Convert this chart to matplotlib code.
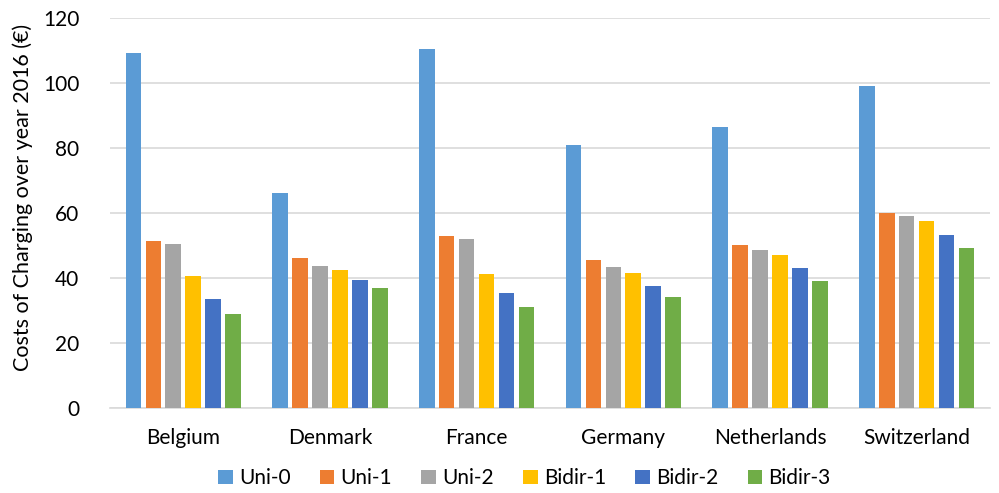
import matplotlib
matplotlib.use("Agg")
import matplotlib.pyplot as plt
import numpy as np

plt.rcParams['font.family'] = ['Lato', 'DejaVu Sans']

countries = ['Belgium', 'Denmark', 'France', 'Germany', 'Netherlands', 'Switzerland']
series_names = ['Uni-0', 'Uni-1', 'Uni-2', 'Bidir-1', 'Bidir-2', 'Bidir-3']

uni0 = [109.2, 66.1, 110.6, 81.0, 86.4, 99.2]
uni1 = [51.6, 46.2, 53.0, 45.5, 50.2, 60.0]
uni2 = [50.5, 43.8, 52.1, 43.3, 48.8, 59.1]
bidir1 = [40.8, 42.4, 41.4, 41.6, 47.0, 57.5]
bidir2 = [33.6, 39.4, 35.6, 37.6, 43.1, 53.3]
bidir3 = [28.9, 36.9, 31.0, 34.2, 39.2, 49.3]

colors = ['#5B9BD5', '#ED7D31', '#A5A5A5', '#FFC000', '#4472C4', '#70AD47']

fig = plt.figure(figsize=(9.99, 4.93), dpi=100)
ax = fig.add_axes([0.110, 0.172, 0.881, 0.791])

x = np.arange(len(countries))
step = 0.136
width = 0.106
all_series = [uni0, uni1, uni2, bidir1, bidir2, bidir3]
for i, (vals, name, c) in enumerate(zip(all_series, series_names, colors)):
    ax.bar(x + (i - 2.5) * step, vals, width, color=c, label=name, zorder=3)

ax.set_xlim(-0.5, len(countries) - 0.5)
ax.set_ylim(0, 120)
ax.set_yticks(range(0, 121, 20))
ax.yaxis.grid(True, color='#d9d9d9', linewidth=1.2, zorder=0)
ax.set_xticks(x)
ax.set_xticklabels(countries, fontsize=15)
ax.tick_params(axis='y', labelsize=15, length=0, pad=22)
ax.tick_params(axis='x', length=0, pad=14)
for s in ['top', 'right', 'left']:
    ax.spines[s].set_visible(False)
ax.spines['bottom'].set_color('#d9d9d9')
ax.spines['bottom'].set_linewidth(1.2)

fig.text(0.023, 0.600, 'Costs of Charging over year 2016 (€)', rotation=90,
         ha='center', va='center', fontsize=15.5)

fig.legend(loc='center', bbox_to_anchor=(0.525, 0.03), ncol=6, frameon=False,
           fontsize=15, handlelength=0.7, handleheight=0.7, handletextpad=0.3,
           columnspacing=1.4)

fig.savefig('out.png', dpi=100)
